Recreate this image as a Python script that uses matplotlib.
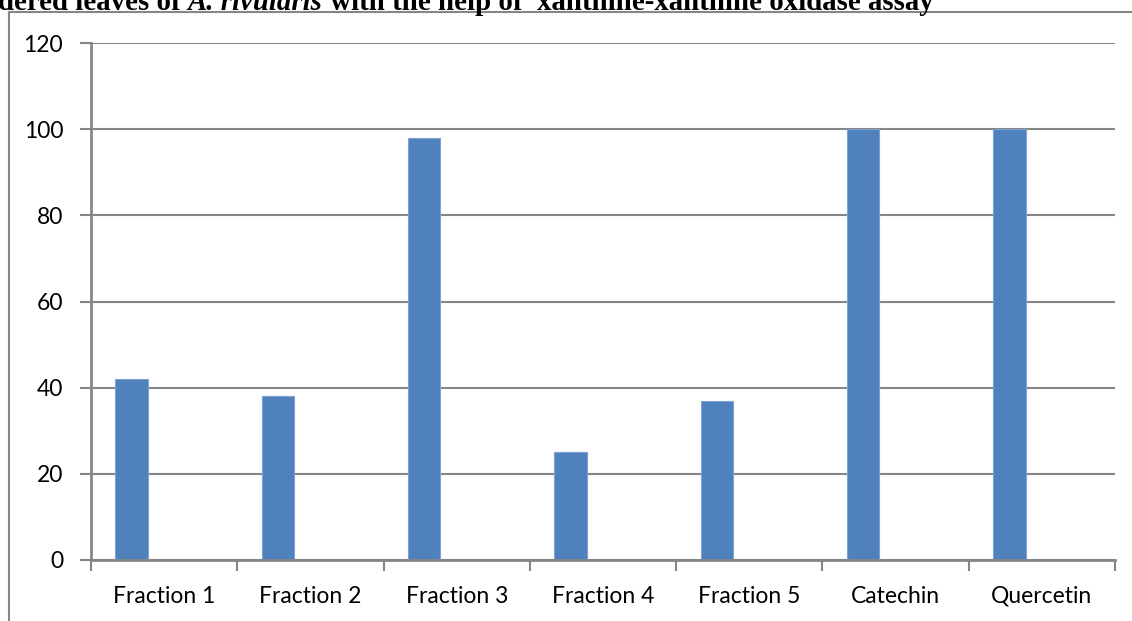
import matplotlib.pyplot as plt
from matplotlib.lines import Line2D
import matplotlib.transforms as mtransforms
import numpy as np

categories = ["Fraction 1", "Fraction 2", "Fraction 3", "Fraction 4",
              "Fraction 5", "Catechin", "Quercetin"]
values = [42, 38, 98, 25, 37, 100, 100]
y_ticks = [0, 20, 40, 60, 80, 100, 120]

plt.rcParams["font.family"] = ["Lato", "DejaVu Sans"]

fig = plt.figure(figsize=(11.32, 6.21), dpi=100)
ax = fig.add_axes([91 / 1132, 1 - 560 / 621, 1024 / 1132, 517 / 621])

# clustered-bar slot layout: three slots per category, gap 150 %
x = np.arange(len(categories))
w = 1 / 4.5
ax.bar(x - w, values, width=w, color="#4F81BD", edgecolor="#7FA3D0",
       linewidth=0.8, zorder=3)

ax.set_xlim(-0.5, len(categories) - 0.5)
ax.set_ylim(0, 120)
ax.set_yticks(y_ticks)
ax.set_xticks(np.arange(len(categories) + 1) - 0.5)
ax.set_xticklabels([])

grid_c = "#868686"
ax.yaxis.grid(True, color=grid_c, linewidth=1.5, zorder=0)
ax.set_axisbelow(True)
for s in ("top", "right"):
    ax.spines[s].set_visible(False)
for s in ("left", "bottom"):
    ax.spines[s].set_color(grid_c)
    ax.spines[s].set_linewidth(2)
    ax.spines[s].set_zorder(4)

ax.tick_params(axis="y", length=8, width=1.5, color=grid_c, pad=12,
               labelsize=16.5, labelcolor="black")
ax.tick_params(axis="x", length=8, width=1.5, color=grid_c)

# category names under the axis, all on one baseline
label_trans = ax.get_xaxis_transform() + mtransforms.ScaledTranslation(
    0, -43 / 100, fig.dpi_scale_trans)
for xi, name in zip(x, categories):
    ax.text(xi, 0, name, transform=label_trans, ha="center", va="baseline",
            fontsize=16.5, clip_on=False)

# outer chart frame
fig.add_artist(Line2D([8.5 / 1132, 8.5 / 1132, 1.0], [0, 1 - 12 / 621, 1 - 12 / 621],
                      transform=fig.transFigure, color=grid_c, linewidth=1.5))

# caption line above the chart, set piece by piece so the species name is italic
pieces = [("dered leaves of ", "normal"), ("A. rivularis", "italic"),
          (" with the help of  xanthine-xanthine oxidase assay", "normal")]
renderer = fig.canvas.get_renderer()
xpos = -2
for txt, style in pieces:
    t = fig.text(xpos / 1132, 1 - 9.5 / 621, txt, fontsize=20.8, fontweight="bold",
                 fontstyle=style, family="Liberation Serif",
                 ha="left", va="baseline")
    bb = t.get_window_extent(renderer)
    xpos += bb.width

fig.savefig("out.png", dpi=100)
